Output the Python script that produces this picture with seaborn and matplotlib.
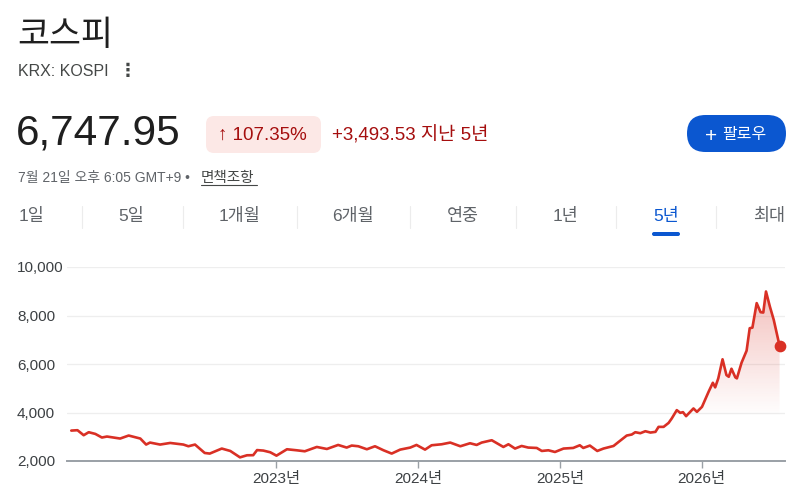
import numpy as np
import pandas as pd
import matplotlib
matplotlib.use('Agg')
import matplotlib.pyplot as plt
import matplotlib.dates as mdates
from matplotlib.patches import FancyBboxPatch
import seaborn as sns

sns.set_theme(style='white')
plt.rcParams['font.family'] = ['Liberation Sans', 'Noto Sans CJK KR', 'DejaVu Sans']

# KOSPI close
dates = ['2021-07-21', '2021-08-06', '2021-08-22', '2021-09-04', '2021-09-21',
         '2021-10-08', '2021-10-21', '2021-11-24', '2021-12-16', '2022-01-15',
         '2022-01-30', '2022-02-09', '2022-03-07', '2022-04-02', '2022-05-06',
         '2022-05-19', '2022-06-05', '2022-06-30', '2022-07-13', '2022-08-13',
         '2022-09-04', '2022-09-29', '2022-10-17', '2022-11-02', '2022-11-12',
         '2022-11-28', '2022-12-16', '2023-01-01', '2023-01-28', '2023-02-22',
         '2023-03-15', '2023-04-15', '2023-05-11', '2023-06-09', '2023-07-01',
         '2023-07-14', '2023-07-31', '2023-08-22', '2023-09-12', '2023-10-04',
         '2023-10-25', '2023-11-16', '2023-12-12', '2023-12-28', '2024-01-19',
         '2024-02-05', '2024-03-02', '2024-03-24', '2024-04-19', '2024-05-14',
         '2024-05-31', '2024-06-13', '2024-07-09', '2024-08-08', '2024-08-21',
         '2024-09-07', '2024-09-24', '2024-10-11', '2024-11-02', '2024-11-15',
         '2024-12-02', '2024-12-19', '2025-01-10', '2025-02-04', '2025-02-21',
         '2025-03-02', '2025-03-19', '2025-04-07', '2025-04-23', '2025-05-19',
         '2025-06-01', '2025-06-22', '2025-07-05', '2025-07-14', '2025-07-27',
         '2025-08-09', '2025-08-22', '2025-09-04', '2025-09-12', '2025-09-25',
         '2025-10-08', '2025-10-16', '2025-10-29', '2025-11-07', '2025-11-14',
         '2025-11-22', '2025-12-11', '2025-12-20', '2026-01-02', '2026-01-19',
         '2026-01-30', '2026-02-05', '2026-02-13', '2026-02-24', '2026-03-06',
         '2026-03-12', '2026-03-19', '2026-03-29', '2026-04-02', '2026-04-14',
         '2026-04-27', '2026-05-05', '2026-05-12', '2026-05-23', '2026-06-02',
         '2026-06-09', '2026-06-16', '2026-06-26', '2026-07-06', '2026-07-21']
values = [3254, 3270, 3063, 3187, 3117, 2968, 3009, 2926, 3050, 2926,
          2678, 2760, 2678, 2744, 2678, 2608, 2678, 2331, 2306, 2513,
          2414, 2150, 2236, 2240, 2450, 2430, 2360, 2220, 2484, 2442,
          2401, 2579, 2496, 2662, 2554, 2637, 2608, 2484, 2608, 2442,
          2306, 2470, 2554, 2662, 2470, 2649, 2690, 2760, 2608, 2732,
          2662, 2760, 2856, 2579, 2690, 2513, 2620, 2554, 2538, 2414,
          2442, 2372, 2513, 2538, 2649, 2538, 2636, 2414, 2513, 2620,
          2786, 3050, 3092, 3187, 3146, 3228, 3173, 3201, 3407, 3407,
          3572, 3753, 4097, 3986, 4014, 3849, 4167, 4027, 4233, 4854,
          5226, 5036, 5408, 6194, 5544, 5474, 5805, 5449, 5408, 6053,
          6549, 7475, 7500, 8510, 8137, 8121, 8990, 8369, 7819, 6748]

y_ticks = [2000, 4000, 6000, 8000, 10000]
x_ticks = ['2023-01-01', '2024-01-01', '2025-01-01', '2026-01-01']
x_tick_labels = ['2023년', '2024년', '2025년', '2026년']
tab_labels = ['1일', '5일', '1개월', '6개월', '연중', '1년', '5년', '최대']

RED = '#d93025'
W, H = 800, 496

df = pd.DataFrame({'date': pd.to_datetime(dates), 'close': values})

fig = plt.figure(figsize=(W / 100, H / 100), dpi=100)
fig.patch.set_facecolor('white')

# header drawn in pixel coordinates
hax = fig.add_axes([0, 0, 1, 1], zorder=0)
hax.set_xlim(0, W)
hax.set_ylim(H, 0)
hax.axis('off')

hax.text(17, 36, '코스피', fontsize=25, color='#1f1f1f', va='center')
hax.text(18, 72, 'KRX: KOSPI', fontsize=11.5, color='#444746', va='center')
hax.text(128, 71, '⋮', fontsize=13, fontweight='bold', color='#444746',
         va='center', ha='center', family='DejaVu Sans')

hax.text(16, 134, '6,747.95', fontsize=30.5, color='#1f1f1f', va='center')
hax.add_patch(FancyBboxPatch((206, 116), 115, 37,
                             boxstyle='round,pad=0,rounding_size=8',
                             fc='#fce8e6', ec='none'))
hax.text(218, 135, '↑ 107.35%', fontsize=13.5, color='#a50e0e', va='center')
hax.text(332, 135, '+3,493.53 지난 5년', fontsize=13.5, color='#a50e0e', va='center')

hax.add_patch(FancyBboxPatch((687, 115), 99, 37,
                             boxstyle='round,pad=0,rounding_size=18.5',
                             fc='#0b57d0', ec='none'))
hax.text(711, 134, '+', fontsize=15, color='white', va='center_baseline', ha='center')
hax.text(744, 134, '팔로우', fontsize=11.5, color='white', va='center', ha='center')

hax.text(18, 178, '7월 21일 오후 6:05 GMT+9 •', fontsize=10, color='#5f6368', va='center')
hax.text(201, 178, '면책조항', fontsize=10.5, color='#444746', va='center')
hax.plot([201, 257], [185, 185], color='#444746', lw=0.8)

tab_x = [31, 131, 240, 353, 463, 566, 666, 769]
for lab, tx in zip(tab_labels, tab_x):
    col = '#0b57d0' if lab == '5년' else '#5f6368'
    hax.text(tx, 216, lab, fontsize=12.5, color=col, va='center', ha='center')
for sx in [82, 183, 297, 410, 516, 616, 716]:
    hax.plot([sx, sx], [206, 228], color='#ececec', lw=0.8)
hax.add_patch(FancyBboxPatch((652, 232), 28, 4,
                             boxstyle='round,pad=0,rounding_size=2',
                             fc='#0b57d0', ec='none'))

# chart
ax = fig.add_axes([67 / W, (H - 461) / H, 718 / W, 194 / H], zorder=1)
ax.patch.set_alpha(0)
sns.lineplot(data=df, x='date', y='close', color=RED, linewidth=1.9, ax=ax)
ax.scatter(df['date'].iloc[-1], df['close'].iloc[-1], s=55, color=RED,
           zorder=5, clip_on=False)

xlim = (mdates.datestr2num('2021-07-10'), mdates.datestr2num('2026-08-04'))
ylim = (2000, 10000)

# gradient fill under the line
xn = mdates.date2num(df['date'])
poly = ax.fill_between(xn, df['close'], ylim[0], color='none', lw=0)
grad = np.linspace(0, 1, 256).reshape(-1, 1)
alpha = np.clip((grad * (ylim[1] - ylim[0]) + ylim[0] - 3800) / 5200, 0, 1) * 0.3
rgba = np.zeros((256, 1, 4))
rgba[..., :3] = matplotlib.colors.to_rgb(RED)
rgba[..., 3] = alpha
img = ax.imshow(rgba, extent=[xlim[0], xlim[1], ylim[0], ylim[1]],
                origin='lower', aspect='auto', zorder=1)
img.set_clip_path(poly.get_paths()[0], transform=ax.transData)

ax.set_xlim(xlim)
ax.set_ylim(ylim)
ax.set_xlabel('')
ax.set_ylabel('')

ax.set_yticks(y_ticks)
ax.set_yticklabels([f'{v:,}' for v in y_ticks])
for lab in ax.get_yticklabels():
    lab.set_horizontalalignment('left')
ax.tick_params(axis='y', length=0, pad=36, labelsize=11, labelcolor='#3c4043')
ax.grid(axis='y', color='#eeeeee', lw=0.9)
ax.grid(axis='x', visible=False)

ax.set_xticks(mdates.datestr2num(x_ticks))
ax.set_xticklabels(x_tick_labels)
ax.tick_params(axis='x', length=5, width=1, color='#9aa0a6', pad=3,
               labelsize=11, labelcolor='#3c4043', bottom=True)

for side in ['top', 'right', 'left']:
    ax.spines[side].set_visible(False)
ax.spines['bottom'].set_color('#9aa0a6')
ax.spines['bottom'].set_linewidth(1.4)

fig.savefig('out.png', dpi=100, facecolor='white')
